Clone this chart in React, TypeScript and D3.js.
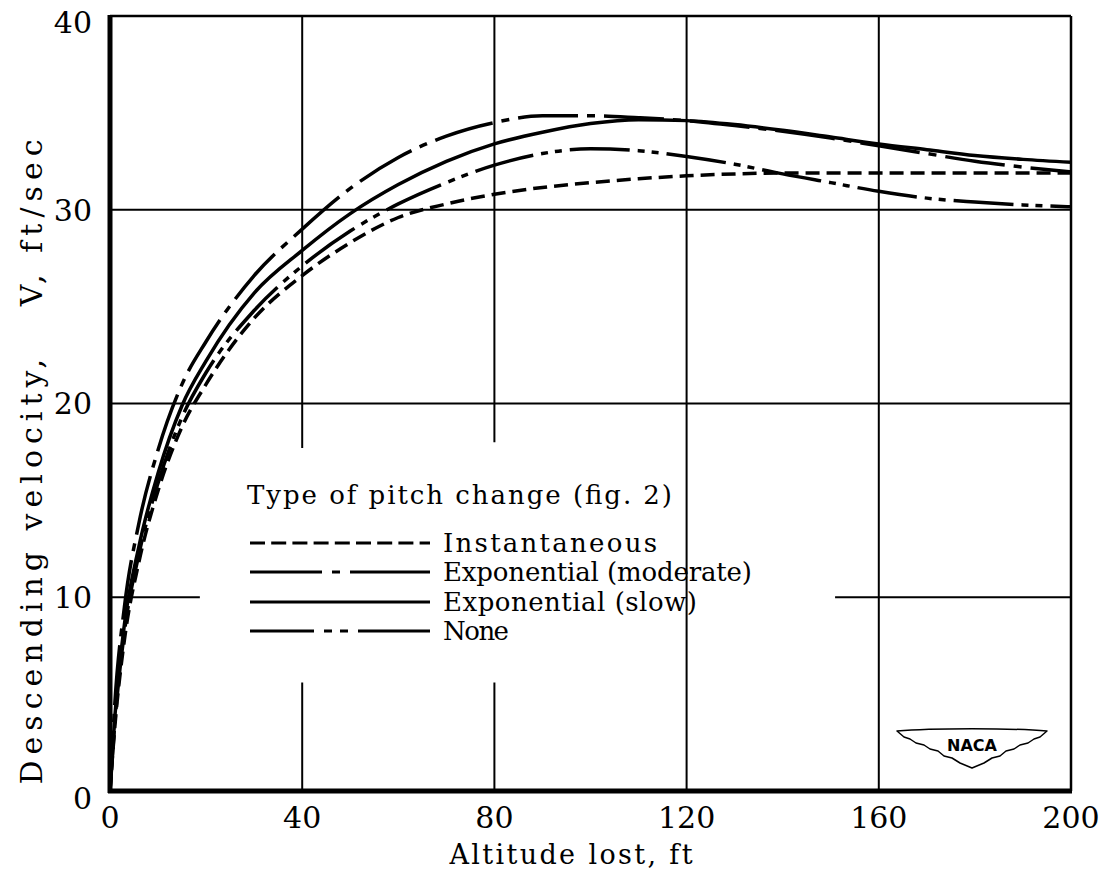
import React from "react";
import * as d3 from "d3";

const altitude = [0, 1, 3, 6, 10, 15, 20, 30, 40, 50, 60, 70, 80, 90, 100, 110, 120, 130, 140, 150, 160, 170, 180, 190, 200];
const instantaneous = [0, 3.3, 7.8, 11.8, 15.5, 18.8, 21.0, 24.4, 26.6, 28.3, 29.6, 30.3, 30.8, 31.15, 31.4, 31.6, 31.75, 31.85, 31.9, 31.9, 31.9, 31.9, 31.9, 31.9, 31.9];
const expModerate = [0, 4.5, 9.5, 13.8, 17.6, 21.0, 23.2, 26.6, 29.0, 31.1, 32.7, 33.8, 34.5, 34.85, 34.85, 34.75, 34.6, 34.35, 34.05, 33.7, 33.3, 32.9, 32.5, 32.2, 31.95];
const expSlow = [0, 3.8, 8.6, 12.6, 16.4, 19.9, 22.2, 25.7, 27.9, 29.8, 31.3, 32.5, 33.4, 34.0, 34.45, 34.65, 34.6, 34.4, 34.1, 33.75, 33.4, 33.1, 32.8, 32.6, 32.45];
const noneChange = [0, 3.5, 8.2, 12.2, 15.9, 19.3, 21.6, 24.8, 27.1, 28.9, 30.3, 31.4, 32.3, 32.9, 33.15, 33.05, 32.75, 32.35, 31.85, 31.4, 30.95, 30.6, 30.4, 30.25, 30.15];

const xTicks = [0, 40, 80, 120, 160, 200];
const yTicks = [0, 10, 20, 30, 40];
const legendTitle = "Type of pitch change (fig. 2)";
const seriesNames = ["Instantaneous", "Exponential (moderate)", "Exponential (slow)", "None"];

const FONT = "'DejaVu Serif', serif";

export default function App() {
  const x = d3.scaleLinear().domain([0, 200]).range([110, 1071]);
  const y = d3.scaleLinear().domain([0, 40]).range([791, 16]);

  const series = [
    { name: seriesNames[0], values: instantaneous, dash: "14,7", legendDash: "15,6.2", textLen: 214 },
    { name: seriesNames[1], values: expModerate, dash: "60,9,8,9", legendDash: "72,10,8,10,80", textLen: 309 },
    { name: seriesNames[2], values: expSlow, dash: "none", legendDash: "none", textLen: 254 },
    { name: seriesNames[3], values: noneChange, dash: "60,8,7,7,7,8", legendDash: "64,10,8,8,8,10,72", textLen: 66 },
  ];

  const line = d3
    .line<number>()
    .x((_, i) => x(altitude[i]))
    .y((d) => y(d))
    .curve(d3.curveMonotoneX);

  // gridline segments (data units) — broken around the legend
  const vGrid = [
    { v: 40, segs: [[17.7, 40], [0, 5.6]] },
    { v: 80, segs: [[18.0, 40], [0, 5.6]] },
    { v: 120, segs: [[0, 40]] },
    { v: 160, segs: [[0, 40]] },
  ];
  const hGrid = [
    { v: 10, segs: [[0, 18.7], [150.9, 200]] },
    { v: 20, segs: [[0, 200]] },
    { v: 30, segs: [[0, 200]] },
  ];

  const legendX0 = 250;
  const legendX1 = 430;
  const legendTextX = 443;
  const legendRows = [543, 572, 602, 631];

  const logoCx = 972;
  const logoCy = 748;

  return (
    <svg
      width={1106}
      height={876}
      style={{ position: "absolute", left: 0, top: 0, background: "#fff" }}
    >
      <rect x={0} y={0} width={1106} height={876} fill="#fff" />
      {/* gridlines */}
      {vGrid.map((g) =>
        g.segs.map((s, i) => (
          <line
            key={`v${g.v}-${i}`}
            x1={x(g.v)}
            x2={x(g.v)}
            y1={y(s[0])}
            y2={y(s[1])}
            stroke="#000"
            strokeWidth={2}
          />
        ))
      )}
      {hGrid.map((g) =>
        g.segs.map((s, i) => (
          <line
            key={`h${g.v}-${i}`}
            x1={x(s[0])}
            x2={x(s[1])}
            y1={y(g.v)}
            y2={y(g.v)}
            stroke="#000"
            strokeWidth={2}
          />
        ))
      )}
      {/* frame */}
      <line x1={x(0)} x2={x(200)} y1={y(40)} y2={y(40)} stroke="#000" strokeWidth={2.5} />
      <line x1={x(200)} x2={x(200)} y1={y(40)} y2={y(0)} stroke="#000" strokeWidth={2.5} />
      <line x1={x(0)} x2={x(0)} y1={y(40) - 1} y2={y(0) + 2} stroke="#000" strokeWidth={5} />
      <line x1={x(0) - 2} x2={x(200) + 1} y1={y(0)} y2={y(0)} stroke="#000" strokeWidth={5} />

      {/* curves */}
      {series.map((s) => (
        <path
          key={s.name}
          d={line(s.values) || ""}
          fill="none"
          stroke="#000"
          strokeWidth={3.5}
          strokeDasharray={s.dash}
          strokeLinecap="butt"
        />
      ))}

      {/* tick labels */}
      {xTicks.map((t) => (
        <text
          key={`xt${t}`}
          x={x(t)}
          y={828}
          textAnchor="middle"
          fontFamily={FONT}
          fontSize={30}
          fill="#000"
        >
          {t}
        </text>
      ))}
      {yTicks.map((t) => (
        <text
          key={`yt${t}`}
          x={92}
          y={y(t) + (t === 0 ? 7 : t === 40 ? 6 : 0)}
          dy="0.36em"
          textAnchor="end"
          fontFamily={FONT}
          fontSize={30}
          fill="#000"
        >
          {t}
        </text>
      ))}

      {/* axis titles */}
      <text
        x={571}
        y={864}
        textAnchor="middle"
        fontFamily={FONT}
        fontSize={27}
        textLength={243}
        lengthAdjust="spacing"
        fill="#000"
      >
        Altitude lost, ft
      </text>
      <text
        transform={`translate(42,462) rotate(-90)`}
        textAnchor="middle"
        fontFamily={FONT}
        fontSize={30}
        textLength={645}
        lengthAdjust="spacing"
        fill="#000"
        style={{ whiteSpace: "pre" }}
        xmlSpace="preserve"
      >
        {"Descending velocity,   V, ft/sec"}
      </text>

      {/* legend */}
      <text
        x={247}
        y={495}
        dy="0.36em"
        fontFamily={FONT}
        fontSize={26}
        textLength={425}
        lengthAdjust="spacing"
        fill="#000"
      >
        {legendTitle}
      </text>
      {series.map((s, i) => (
        <g key={`lg${i}`}>
          <line
            x1={legendX0}
            x2={legendX1}
            y1={legendRows[i]}
            y2={legendRows[i]}
            stroke="#000"
            strokeWidth={3}
            strokeDasharray={s.legendDash}
          />
          <text
            x={legendTextX}
            y={legendRows[i]}
            dy="0.36em"
            fontFamily={FONT}
            fontSize={26}
            textLength={s.textLen}
            lengthAdjust="spacing"
            fill="#000"
          >
            {s.name}
          </text>
        </g>
      ))}

      {/* NACA logo */}
      <g transform={`translate(${logoCx},${logoCy})`}>
        <path
          d="M -75 -17 C -40 -20, 40 -20, 75 -17 L 68 -11 L 62 -9 L 56 -5 L 48 -3 L 42 1 L 34 3 L 28 8 L 20 10 L 12 15 L 0 20 L -12 15 L -20 10 L -28 8 L -34 3 L -42 1 L -48 -3 L -56 -5 L -62 -9 L -68 -11 Z"
          fill="#fff"
          stroke="#000"
          strokeWidth={1.5}
          strokeLinejoin="round"
        />
        <text
          x={0}
          y={3}
          textAnchor="middle"
          fontFamily="'DejaVu Sans', sans-serif"
          fontWeight="bold"
          fontSize={16}
          fill="#000"
        >
          NACA
        </text>
      </g>
    </svg>
  );
}
